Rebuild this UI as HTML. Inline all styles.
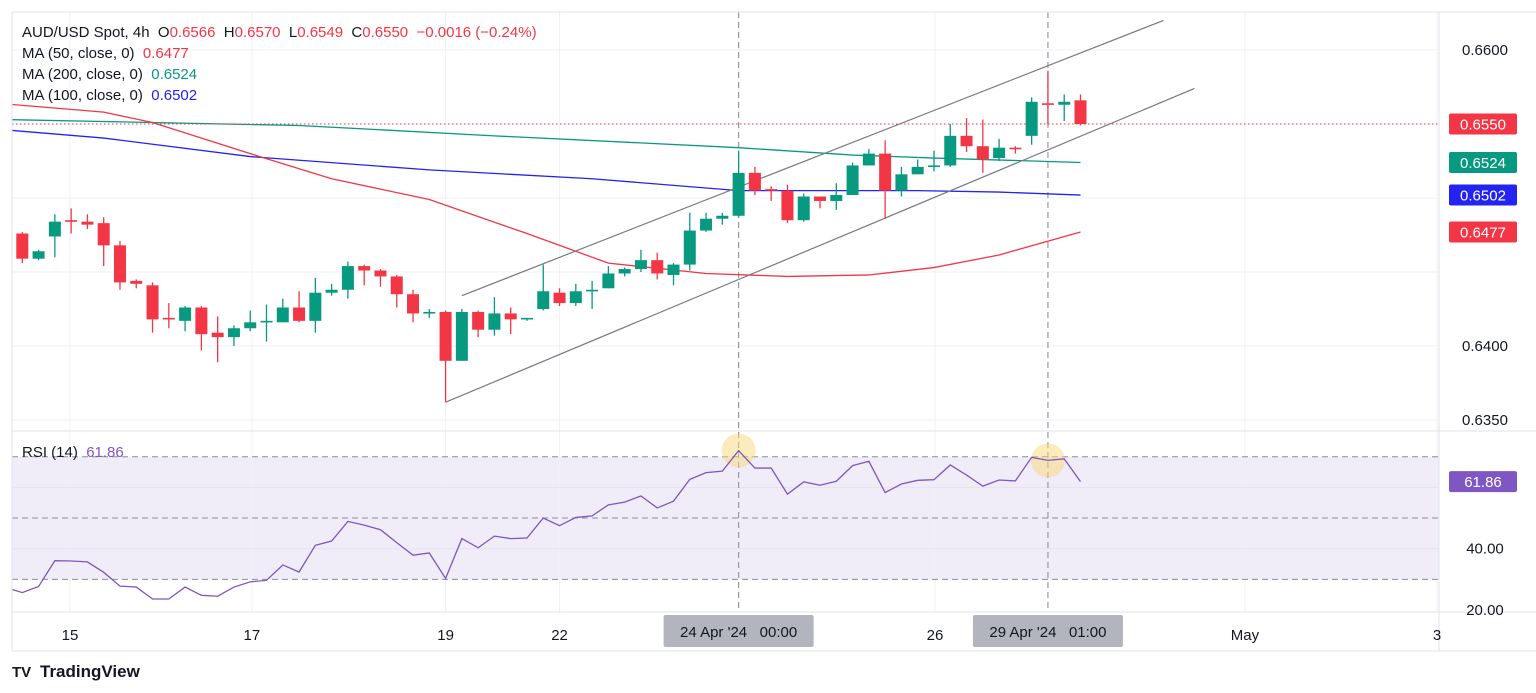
<!DOCTYPE html>
<html><head><meta charset="utf-8">
<style>
body{margin:0;background:#fff;font-family:"Liberation Sans",sans-serif;}
svg{display:block}
text{white-space:pre}
</style></head>
<body>
<svg id="chart" width="1536" height="693" viewBox="0 0 1536 693" xmlns="http://www.w3.org/2000/svg">
<defs><clipPath id="plot"><rect x="12" y="12" width="1427" height="600"/></clipPath></defs>
</svg>
<script>
const opens=[0.6476,0.6459,0.6474,0.6485,0.6484,0.6483,0.6468,0.6444,0.6441,0.6419,0.6417,0.6426,0.6409,0.6406,0.6412,0.6416,0.6416,0.6426,0.6417,0.6436,0.6438,0.6454,0.6451,0.6447,0.6435,0.6422,0.6423,0.6390,0.6423,0.6411,0.6422,0.6418,0.6425,0.6436,0.6429,0.6437,0.6439,0.6449,0.6452,0.6458,0.6448,0.6455,0.6478,0.6486,0.6488,0.6517,0.6506,0.6505,0.6485,0.6501,0.6498,0.6502,0.6522,0.6530,0.6505,0.6516,0.6521,0.6522,0.6542,0.6535,0.6527,0.6534,0.6542,0.6564,0.6563,0.6566];
const highs=[0.6477,0.6465,0.6489,0.6493,0.6489,0.6487,0.6471,0.6445,0.6443,0.6429,0.6427,0.6427,0.6420,0.6414,0.6424,0.6428,0.6432,0.6437,0.6446,0.6442,0.6457,0.6455,0.6452,0.6448,0.6438,0.6425,0.6424,0.6425,0.6424,0.6433,0.6426,0.6419,0.6455,0.6439,0.6442,0.6444,0.6454,0.6453,0.6465,0.6463,0.6456,0.6490,0.6490,0.6490,0.6532,0.6521,0.6508,0.6509,0.6503,0.6501,0.6510,0.6524,0.6533,0.6539,0.6521,0.6526,0.6532,0.6550,0.6554,0.6553,0.6540,0.6535,0.6568,0.6586,0.6570,0.6570];
const lows=[0.6456,0.6458,0.6460,0.6476,0.6479,0.6454,0.6438,0.6439,0.6409,0.6412,0.6410,0.6397,0.6389,0.6400,0.6410,0.6403,0.6416,0.6416,0.6409,0.6434,0.6432,0.6441,0.6440,0.6426,0.6416,0.6419,0.6362,0.6390,0.6406,0.6407,0.6408,0.6417,0.6424,0.6427,0.6427,0.6425,0.6439,0.6447,0.6450,0.6445,0.6441,0.6451,0.6477,0.6482,0.6487,0.6502,0.6498,0.6483,0.6484,0.6493,0.6492,0.6502,0.6522,0.6486,0.6501,0.6516,0.6518,0.6521,0.6531,0.6517,0.6525,0.6530,0.6536,0.6550,0.6552,0.6549];
const closes=[0.6459,0.6464,0.6484,0.6484,0.6482,0.6468,0.6443,0.6442,0.6418,0.6418,0.6426,0.6408,0.6406,0.6412,0.6416,0.6417,0.6426,0.6417,0.6436,0.6438,0.6454,0.6451,0.6447,0.6435,0.6422,0.6423,0.6390,0.6423,0.6411,0.6422,0.6418,0.6419,0.6437,0.6429,0.6437,0.6438,0.6449,0.6452,0.6458,0.6449,0.6455,0.6478,0.6486,0.6488,0.6517,0.6505,0.6505,0.6485,0.6501,0.6498,0.6502,0.6522,0.6530,0.6505,0.6516,0.6521,0.6522,0.6542,0.6535,0.6526,0.6534,0.6533,0.6565,0.6563,0.6565,0.6550];
const ma50Idx=[-1,5,8,14,19,25,31,36,42,47,52,56,60,65];
const ma50Val=[0.65635,0.6558,0.6551,0.6530,0.6513,0.6499,0.6476,0.6456,0.6449,0.6447,0.6448,0.6453,0.64615,0.6477];
const ma100Idx=[-1,5,14,25,35,44,55,60,65];
const ma100Val=[0.6546,0.65405,0.6528,0.6519,0.6513,0.6505,0.6505,0.6504,0.6502];
const ma200Idx=[-1,17,29,44,51,56,65];
const ma200Val=[0.6553,0.6549,0.6542,0.6534,0.6529,0.6527,0.6524];
const rsi=[27.3,25.7,27.7,36.1,36.0,35.7,32.3,27.8,27.5,23.6,23.6,27.5,24.8,24.5,27.5,29.2,29.7,34.7,32.4,41.1,42.5,48.9,47.7,46.2,42.0,37.9,38.6,30.3,43.3,40.3,44.1,43.3,43.5,50.0,47.5,50.2,50.7,54.3,55.2,57.2,53.3,55.5,62.6,64.8,65.3,72.0,66.3,66.3,57.8,61.8,60.7,62.0,67.1,68.5,58.3,61.1,62.3,62.5,67.3,64.0,60.4,62.4,62.1,69.8,68.8,69.3,61.86];
const priceTicks=[0.6350,0.6400,0.6450,0.6500,0.6550,0.6600];
const priceTickLabels=["0.6350","0.6400","","","","0.6600"];
const timeTickIdx=[2.93,14.1,26.0,33.0,56.06,75.1,86.9];
const timeTickLabels=["15","17","19","22","26","May","3"];
const rsiTicks=[40,20];
const channelUpper=[[27,0.6434],[70.1,0.6620]];
const channelLower=[[26,0.6362],[72,0.6574]];
const markerIdx=[44,63];
const markerLabels=["24 Apr '24   00:00","29 Apr '24   01:00"];

const X=i=>22.3+i*16.28;
const Y=p=>50+(0.66-p)*14800;
const RY=v=>456.7+(70-v)*3.067;
const svg=document.getElementById('chart');
const NS='http://www.w3.org/2000/svg';
function mk(tag,attrs,parent){const e=document.createElementNS(NS,tag);for(const k in attrs)e.setAttribute(k,attrs[k]);(parent||svg).appendChild(e);return e;}
const G='#089981',R='#f23645',B='#2323f2',P='#7e57c2';
const plot=mk('g',{'clip-path':'url(#plot)'});



let band=mk('rect',{x:12,y:RY(70),width:1427,height:RY(30)-RY(70),fill:'#f0ecf8'},plot);


for(const p of priceTicks){let l=mk('line',{x1:12,x2:1439,y1:Y(p),y2:Y(p),stroke:'#f0f1f4'},plot);

}
for(const t of timeTickIdx){let l=mk('line',{x1:X(t),x2:X(t),y1:12,y2:612,stroke:'#f0f1f4'},plot);

}
for(const v of [60,40]){let l=mk('line',{x1:12,x2:1439,y1:RY(v),y2:RY(v),stroke:'#e6e2f0'},plot);

}
for(const v of [70,50,30]){let l=mk('line',{x1:12,x2:1439,y1:RY(v),y2:RY(v),stroke:'#8a8d96','stroke-dasharray':'6 4'},plot);

}
mk('line',{x1:12,x2:1536,y1:431,y2:431,stroke:'#e0e3eb'});
mk('line',{x1:12,x2:1536,y1:612,y2:612,stroke:'#e0e3eb'});
mk('line',{x1:12,x2:1536,y1:651,y2:651,stroke:'#e0e3eb'});
mk('line',{x1:1439,x2:1439,y1:12,y2:651,stroke:'#e0e3eb'});
mk('line',{x1:12,x2:12,y1:12,y2:651,stroke:'#e0e3eb'});
mk('line',{x1:12,x2:1536,y1:12,y2:12,stroke:'#e0e3eb'});
markerIdx.forEach(i=>{let l=mk('line',{x1:X(i),x2:X(i),y1:12,y2:612,stroke:'#9598a1','stroke-dasharray':'6 4','stroke-width':1.2},plot);

});
function line(idx,val,color,name){const pts=idx.map((k,j)=>X(k)+','+Y(val[j])).join(' ');let e=mk('polyline',{points:pts,fill:'none',stroke:color,'stroke-width':1.3},plot);

}
line(ma200Idx,ma200Val,G,'ma200-line');
line(ma100Idx,ma100Val,B,'ma100-line');
line(ma50Idx,ma50Val,R,'ma50-line');
[channelUpper,channelLower].forEach((c,k)=>{let e=mk('line',{x1:X(c[0][0]),y1:Y(c[0][1]),x2:X(c[1][0]),y2:Y(c[1][1]),stroke:'#787b86','stroke-width':1.2},plot);

});
let lp=mk('line',{x1:12,x2:1439,y1:Y(closes[closes.length-1]),y2:Y(closes[closes.length-1]),stroke:R,'stroke-dasharray':'1.5 2.5'},plot);


for(let i=0;i<opens.length;i++){
 const up=closes[i]>=opens[i],c=up?G:R,x=X(i);
 const g=mk('g',{},plot);
 
 
 mk('line',{x1:x,x2:x,y1:Y(highs[i]),y2:Y(lows[i]),stroke:c,'stroke-width':1.3},g);
 const t=Y(Math.max(opens[i],closes[i])),b=Y(Math.min(opens[i],closes[i]));
 mk('rect',{x:x-6,y:t,width:12,height:Math.max(1.6,b-t),fill:c},g);
}
markerIdx.forEach(i=>{let c=mk('circle',{cx:X(i),cy:RY(rsi[i+1]),r:17,fill:'rgba(250,215,120,0.5)'},plot);

});
let rl=mk('polyline',{points:rsi.map((v,j)=>X(j-1)+','+RY(v)).join(' '),fill:'none',stroke:P,'stroke-width':1.3},plot);


function txt(x,y,s,attrs,name,inter){const e=mk('text',Object.assign({x:x,y:y,'font-size':14,fill:'#131722','font-family':'Liberation Sans, sans-serif'},attrs||{}));e.textContent=s;

return e;}
priceTicks.forEach((p,j)=>{if(priceTickLabels[j])txt(1485,Y(p)+5,priceTickLabels[j],{'text-anchor':'middle','font-size':15},'price-tick-label');});
rsiTicks.forEach(v=>txt(1485,RY(v)+5,v.toFixed(2),{'text-anchor':'middle','font-size':15},'rsi-tick-label'));
timeTickIdx.forEach((t,j)=>txt(X(t),640,timeTickLabels[j],{'text-anchor':'middle','font-size':15},'time-tick-label'));
function badge(p,y,col,name){let r=mk('rect',{x:1449,y:y-10.5,width:68,height:21,rx:2,fill:col});


txt(1483,y+5.5,p,{'text-anchor':'middle','font-size':15,fill:'#fff'},name);}
badge('0.6550',Y(0.6550),R,'last-price-badge');
badge('0.6524',Y(0.6524),G,'ma200-badge');
badge('0.6502',Y(0.6502),B,'ma100-badge');
badge('0.6477',Y(0.6477),R,'ma50-badge');
badge('61.86',RY(61.86),P,'rsi-badge');
markerIdx.forEach((i,j)=>{let r=mk('rect',{x:X(i)-75,y:615,width:150,height:32,rx:2,fill:'#b2b5be'});


txt(X(i),637,markerLabels[j],{'text-anchor':'middle','font-size':15},'time-marker-label');});
function leg(y,parts,name){const e=mk('text',{x:22,y:y,'font-size':15,'font-family':'Liberation Sans, sans-serif'});


parts.forEach(([s,c])=>{const t=document.createElementNS(NS,'tspan');t.setAttribute('fill',c);t.textContent=s;e.appendChild(t);});}
const K='#131722';
leg(37,[['AUD/USD Spot, 4h  O',K],['0.6566',R],['  H',K],['0.6570',R],['  L',K],['0.6549',R],['  C',K],['0.6550',R],['  \u22120.0016 (\u22120.24%)',R]],'symbol-legend');
leg(58,[['MA (50, close, 0)  ',K],['0.6477',R]],'ma50-legend');
leg(79,[['MA (200, close, 0)  ',K],['0.6524',G]],'ma200-legend');
leg(100,[['MA (100, close, 0)  ',K],['0.6502',B]],'ma100-legend');
leg(457,[['RSI (14)  ',K],['61.86',P]],'rsi-legend');
txt(40,677,'TradingView',{'font-size':17,'font-weight':'bold'},'tradingview-logo',true);
let ic=mk('text',{x:12,y:677,'font-size':15,'font-weight':'bold',fill:'#131722'});ic.textContent='TV';


</script>
</body></html>
